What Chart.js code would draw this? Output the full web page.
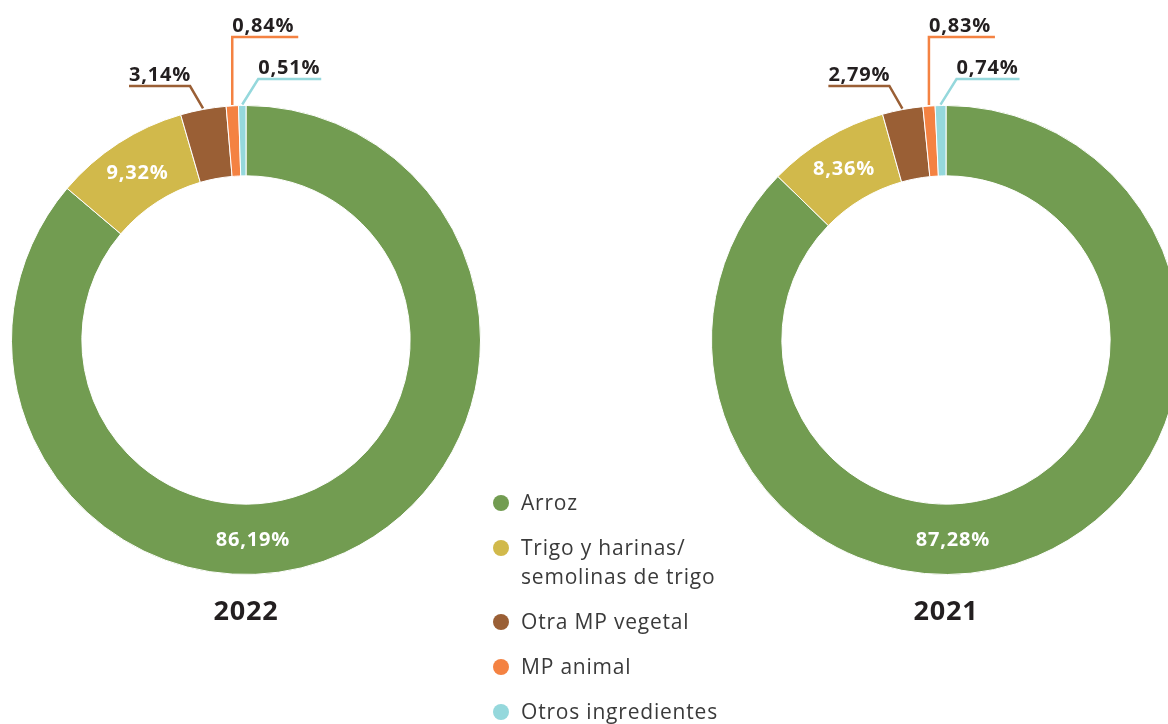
<!DOCTYPE html>
<html lang="es">
<head>
<meta charset="utf-8">
<script src="https://cdn.jsdelivr.net/npm/chart.js@4"></script>
<style>
  html, body { margin: 0; padding: 0; background: #fff; overflow: hidden; width: 1168px; height: 724px; }
  .wrap { position: absolute; top: 0; width: 492px; height: 640px; }
  #legend { position: absolute; left: 493px; top: 488px; font-family: 'Open Sans', sans-serif; font-size: 21px; letter-spacing: 0.8px; color: #3a3a3a; }
  .item { display: flex; align-items: flex-start; margin-bottom: 16px; line-height: 29px; }
  .dot { width: 16px; height: 16px; border-radius: 50%; margin-top: 7px; margin-right: 12px; flex: none; }
</style>
</head>
<body>
<div class="wrap" style="left:0"><canvas id="c2022" width="492" height="640"></canvas></div>
<div class="wrap" style="left:700px"><canvas id="c2021" width="492" height="640"></canvas></div>
<div id="legend"></div>
<script>
// Datos
const categories = ['Arroz', 'Trigo y harinas/ semolinas de trigo', 'Otra MP vegetal', 'MP animal', 'Otros ingredientes'];
const legendLines = [['Arroz'], ['Trigo y harinas/', 'semolinas de trigo'], ['Otra MP vegetal'], ['MP animal'], ['Otros ingredientes']];
const values2022 = [86.19, 9.32, 3.14, 0.84, 0.51];
const values2021 = [87.28, 8.36, 2.79, 0.83, 0.74];
const colors = ['#729c51', '#d1b94b', '#9a5f35', '#f48242', '#95d8dc'];

// Colocación de etiquetas (no son datos)
const labelModes = ['inside', 'inside', 'leader', 'leader', 'leader'];
const leaders = [null, null, { dx: -13, y: -254, len: -61 }, { dx: 0, y: -303, len: 66 }, { dx: 16, y: -261, len: 63 }];

function fmt(v) {
    return v.toFixed(2).replace('.', ',') + '%';
}

// Plugin para etiquetas de porcentaje y año
const labelPlugin = {
    id: 'pctLabels',
    afterDatasetsDraw(chart, args, opts) {
        const ctx = chart.ctx;
        const meta = chart.getDatasetMeta(0);
        const values = chart.data.datasets[0].data;
        ctx.save();
        ctx.letterSpacing = '0.8px';
        meta.data.forEach((arc, i) => {
            const mid = (arc.startAngle + arc.endAngle) / 2;
            const text = fmt(values[i]);
            ctx.font = 'bold 20px "Open Sans", sans-serif';
            if (labelModes[i] === 'inside') {
                const a = i === 0 ? Math.PI / 2 - 0.035 : mid;
                const r = (arc.innerRadius + arc.outerRadius) / 2;
                ctx.fillStyle = '#ffffff';
                ctx.textAlign = 'center';
                ctx.textBaseline = 'middle';
                ctx.fillText(text, arc.x + Math.cos(a) * r, arc.y + Math.sin(a) * r + 1);
            } else {
                const L = leaders[i];
                const sx = arc.x + Math.cos(mid) * (arc.outerRadius + 1);
                const sy = arc.y + Math.sin(mid) * (arc.outerRadius + 1);
                const ex = sx + L.dx;
                const ey = arc.y + L.y;
                const fx = ex + L.len;
                ctx.strokeStyle = colors[i];
                ctx.lineWidth = 2.5;
                ctx.beginPath();
                ctx.moveTo(sx, sy);
                ctx.lineTo(ex, ey);
                ctx.lineTo(fx, ey);
                ctx.stroke();
                ctx.fillStyle = '#231f20';
                ctx.textAlign = 'left';
                ctx.textBaseline = 'alphabetic';
                ctx.fillText(text, Math.min(ex, fx), ey - 5);
            }
        });
        ctx.fillStyle = '#231f20';
        ctx.font = 'bold 27px "Open Sans", sans-serif';
        ctx.textAlign = 'center';
        ctx.textBaseline = 'middle';
        ctx.fillText(opts.year, meta.data[0].x, 612);
        ctx.restore();
    }
};

function createDoughnut(elementId, data, year) {
    const ctx = document.getElementById(elementId).getContext('2d');
    return new Chart(ctx, {
        type: 'doughnut',
        data: {
            labels: categories,
            datasets: [{
                data: data,
                backgroundColor: colors,
                borderColor: '#ffffff',
                borderWidth: 1
            }]
        },
        options: {
            responsive: false,
            animation: false,
            cutout: '70%',
            layout: { padding: { left: 11, right: 11, top: 105, bottom: 65 } },
            plugins: {
                legend: { display: false },
                tooltip: { enabled: false },
                pctLabels: { year: year }
            }
        },
        plugins: [labelPlugin]
    });
}

createDoughnut('c2022', values2022, '2022');
createDoughnut('c2021', values2021, '2021');

// Leyenda
const legend = document.getElementById('legend');
legendLines.forEach((lines, i) => {
    const item = document.createElement('div');
    item.className = 'item';
    item.innerHTML = '<span class="dot" style="background:' + colors[i] + '"></span><span>' + lines.join('<br>') + '</span>';
    legend.appendChild(item);
});
</script>
</body>
</html>
